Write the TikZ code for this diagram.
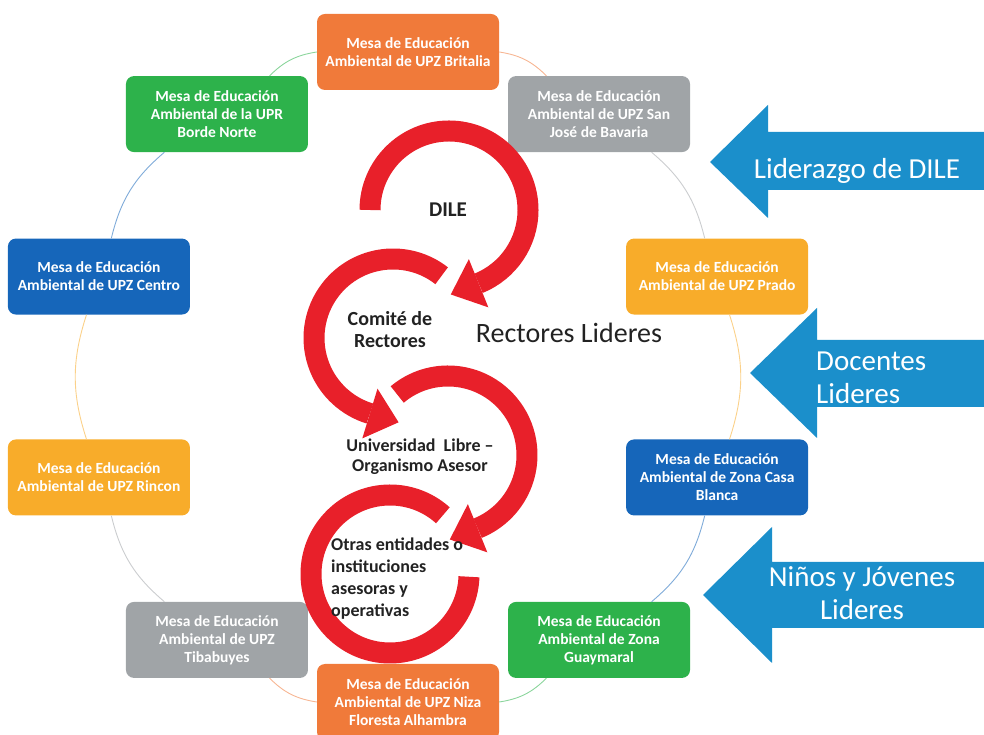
\documentclass[tikz,border=0pt]{standalone}
\usepackage{fontspec}
\setmainfont{Carlito}
\usetikzlibrary{arrows.meta}

\definecolor{naranja}{HTML}{F07A3A}
\definecolor{gris}{HTML}{A0A4A7}
\definecolor{amarillo}{HTML}{F8AC2A}
\definecolor{azul}{HTML}{1666BA}
\definecolor{verde}{HTML}{2DB24B}
\definecolor{rojo}{HTML}{E8202A}
\definecolor{celeste}{HTML}{1B8FCB}
\definecolor{tinta}{HTML}{222222}

\tikzset{
  mesa/.style={rounded corners=8pt, minimum width=182pt, minimum height=76pt,
    align=center, text=white, inner sep=2pt,
    font=\fontsize{15.5}{18}\selectfont\bfseries},
  anillo/.style={line width=21pt, draw=rojo},
  enlace/.style={line width=0.9pt},
  flecha/.style={fill=celeste},
  rotulo/.style={text=white, font=\fontsize{29}{33}\selectfont},
  lazo/.style={text=tinta, align=center},
}

\begin{document}
\begin{tikzpicture}[x=1pt,y=1pt]
    \useasboundingbox (0,0) rectangle (984,735);
    \coordinate (eje) at (408,358);

% mesas de educacion ambiental en circulo
    \foreach \ang/\nom/\col/\txt in {
        90/britalia/naranja/{Mesa de Educación\\Ambiental de UPZ Britalia},
        54/sanjose/gris/{Mesa de Educación\\Ambiental de UPZ San\\José de Bavaria},
        18/prado/amarillo/{Mesa de Educación\\Ambiental de UPZ Prado},
        -18/casablanca/azul/{Mesa de Educación\\Ambiental de Zona Casa\\Blanca},
        -54/guaymaral/verde/{Mesa de Educación\\Ambiental de Zona\\Guaymaral},
        -90/niza/naranja/{Mesa de Educación\\Ambiental de UPZ Niza\\Floresta Alhambra},
        -126/tibabuyes/gris/{Mesa de Educación\\Ambiental de UPZ\\Tibabuyes},
        -162/rincon/amarillo/{Mesa de Educación\\Ambiental de UPZ Rincon},
        162/centro/azul/{Mesa de Educación\\Ambiental de UPZ Centro},
        126/bordenorte/verde/{Mesa de Educación\\Ambiental de la UPR\\Borde Norte}}
        \node[mesa, fill=\col] (\nom) at ([shift={(\ang:325)}]eje) {\txt};

% arcos entre mesas
    \foreach \p/\q/\c in {britalia/sanjose/naranja, sanjose/prado/gris,
        prado/casablanca/amarillo, casablanca/guaymaral/azul, guaymaral/niza/verde,
        niza/tibabuyes/naranja, tibabuyes/rincon/gris, rincon/centro/amarillo,
        centro/bordenorte/azul, bordenorte/britalia/verde}
        \draw[enlace, color=\c!55] (\p) to[bend left=18] (\q);

% lazos rojos
    \coordinate (cdile) at (449,525);
    \coordinate (ccomite) at (393,397);
    \coordinate (cuni) at (448,280);
    \coordinate (cotras) at (390,161);
    \draw[anillo] (cdile) ++(180:79) arc[start angle=180, end angle=-68, radius=79];
    \fill[rojo, shift={(cdile)}, rotate=-68] (53,0) -- (105,0) -- (79,-30) -- cycle;
    \draw[anillo] (ccomite) ++(52:79) arc[start angle=52, end angle=253, radius=79];
    \fill[rojo, shift={(ccomite)}, rotate=253] (53,0) -- (105,0) -- (79,30) -- cycle;
    \draw[anillo] (cuni) ++(130:79) arc[start angle=130, end angle=-68, radius=79];
    \fill[rojo, shift={(cuni)}, rotate=-68] (53,0) -- (105,0) -- (79,-30) -- cycle;
    \draw[anillo] (cotras) ++(48:79) arc[start angle=48, end angle=358, radius=79];

% textos de los lazos
    \node[lazo, font=\fontsize{21}{24}\selectfont\bfseries] (dile) at (448,525) {DILE};
    \node[lazo, font=\fontsize{20}{22}\selectfont\bfseries] (comite) at (390,405) {Comité de\\Rectores};
    \node[lazo, font=\fontsize{18}{20}\selectfont\bfseries] (unilibre) at (420,278) {Universidad\ \ Libre –\\Organismo Asesor};
    \node[lazo, align=left, anchor=west, inner sep=0pt, font=\fontsize{18}{22}\selectfont\bfseries] (otras) at (331,156)
        {Otras entidades o\\instituciones\\asesoras y\\operativas};
    \node[lazo, font=\fontsize{28}{32}\selectfont] (rectores) at (569,402) {Rectores Lideres};

% flechas azules de liderazgo
    \fill[flecha] (984,603) -- (768,603) -- (768,630) -- (710,573) -- (768,517) -- (768,545) -- (984,545) -- cycle;
    \fill[flecha] (984,395) -- (817,395) -- (817,427) -- (750,362) -- (817,297) -- (817,328) -- (984,328) -- cycle;
    \fill[flecha] (984,173) -- (772,173) -- (772,208) -- (703,140) -- (772,72) -- (772,107) -- (984,107) -- cycle;
    \node[rotulo] (liderazgo) at (857,564) {Liderazgo de DILE};
    \node[rotulo, anchor=west, align=left, inner sep=0pt] (docentes) at (816,357) {Docentes\\Lideres};
    \node[rotulo, align=center] (ninos) at (862,142) {Niños y Jóvenes\\Lideres};
\end{tikzpicture}
\end{document}
